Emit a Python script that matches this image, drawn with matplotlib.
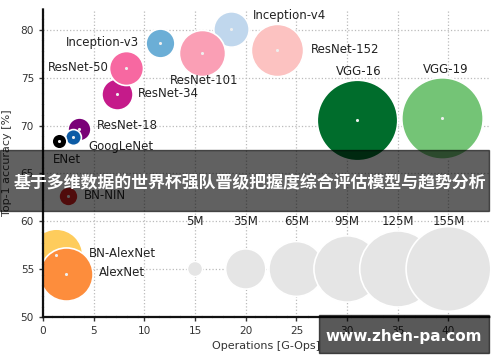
import matplotlib
matplotlib.use('Agg')
import matplotlib.pyplot as plt
from matplotlib.patches import Rectangle

# Redes: nome, operações [G-Ops], acurácia top-1 [%], parâmetros [M]
names = ['Inception-v4', 'Inception-v3', 'ResNet-152', 'ResNet-101', 'ResNet-18',
         'ResNet-34', 'ResNet-50', 'GoogLeNet', 'ENet', 'BN-NIN', 'BN-AlexNet',
         'AlexNet', 'VGG-16', 'VGG-19']
ops = [18.5, 11.5, 23.1, 15.7, 3.6, 7.3, 8.2, 3.0, 1.55, 2.5, 1.3, 2.3, 31.0, 39.4]
acc = [80.1, 78.6, 77.9, 77.6, 69.6, 73.3, 76.0, 68.8, 68.4, 62.65, 56.5, 54.5, 70.6, 70.75]
params = [27, 18, 59, 46, 11.4, 21, 25, 5.4, 4.7, 7.8, 60, 61, 140, 143]
colors = ['#c0d7ed', '#6baed6', '#fcc2c1', '#fa9fb5', '#7a0177', '#c51b8a', '#f768a1',
          '#0d5ca6', '#000000', '#d42020', '#fecc5c', '#fd8d3c', '#006d2c', '#74c476']

# Legenda de tamanho
ref_params = [5, 35, 65, 95, 125, 155]
ref_labels = ['5M', '35M', '65M', '95M', '125M', '155M']
ref_x = [15, 20, 25, 30, 35, 40]
ref_y = 55

# posição dos rótulos (x, y, alinhamento)
label_pos = {
    'Inception-v4': (20.7, 81.55, 'left'),
    'Inception-v3': (9.5, 78.65, 'right'),
    'ResNet-152': (26.4, 77.95, 'left'),
    'ResNet-101': (12.5, 74.7, 'left'),
    'ResNet-18': (5.3, 70.0, 'left'),
    'ResNet-34': (9.35, 73.4, 'left'),
    'ResNet-50': (6.5, 76.1, 'right'),
    'GoogLeNet': (4.47, 67.8, 'left'),
    'ENet': (1.0, 66.5, 'left'),
    'BN-NIN': (4.05, 62.65, 'left'),
    'BN-AlexNet': (4.57, 56.65, 'left'),
    'AlexNet': (5.56, 54.6, 'left'),
    'VGG-16': (31.1, 75.7, 'center'),
    'VGG-19': (39.7, 75.85, 'center'),
}

SCALE = 24

fig = plt.figure(figsize=(5, 3.62), dpi=100)
ax = fig.add_axes([0.086, 0.125, 0.894, 0.85])

ax.set_xlim(0, 44.1)
ax.set_ylim(50, 82.2)
ax.set_xticks(range(0, 41, 5))
ax.set_yticks(range(50, 81, 5))
ax.grid(True, linestyle=':', color='#bbbbbb', linewidth=0.9)
ax.set_axisbelow(True)

for s in ['top', 'right']:
    ax.spines[s].set_visible(False)
for s in ['left', 'bottom']:
    ax.spines[s].set_color('#111111')
    ax.spines[s].set_linewidth(1.6)
    ax.spines[s].set_linestyle((0, (4, 0.8)))

ax.tick_params(labelsize=7.6, colors='#333333', length=3, width=1)

# legenda de tamanhos
ax.scatter(ref_x, [ref_y] * len(ref_x), s=[p * SCALE for p in ref_params],
           c='#e5e5e5', edgecolors='white', linewidths=1.2, zorder=2)
for x, lab in zip(ref_x, ref_labels):
    ax.text(x, 60.0, lab, ha='center', va='center', fontsize=8.5, color='#222222')

# redes
for n, x, y, p, c in zip(names, ops, acc, params, colors):
    ax.scatter([x], [y], s=p * SCALE, c=c, edgecolors='white', linewidths=1.2, zorder=2)
ax.scatter(ops, acc, s=5, c='#eeeeee', linewidths=0, zorder=3)

for n in names:
    x, y, ha = label_pos[n]
    ax.text(x, y, n, ha=ha, va='center', fontsize=8.5, color='#222222')

ax.set_xlabel('Operations [G-Ops]', fontsize=8, color='#333333', labelpad=4)
ax.set_ylabel('Top-1 accuracy [%]', fontsize=8, color='#333333', labelpad=6)

# faixa com título
fig.patches.append(Rectangle((0, 1 - 211 / 362), 489 / 500, 61 / 362,
                             transform=fig.transFigure, color='black', alpha=0.62,
                             zorder=10))
fig.text(250 / 500, 1 - 183 / 362, '基于多维数据的世界杯强队晋级把握度综合评估模型与趋势分析',
         ha='center', va='center', fontsize=12.2, fontweight='bold', color='white',
         family=['Noto Sans CJK SC', 'DejaVu Sans'], zorder=11)

# marca d'água
fig.patches.append(Rectangle((319 / 500, 1 - 353 / 362), 170 / 500, 38 / 362,
                             transform=fig.transFigure, color='black', alpha=0.65,
                             zorder=10))
fig.text(404 / 500, 1 - 336.5 / 362, 'www.zhen-pa.com', ha='center', va='center',
         fontsize=11, fontweight='bold', color='white', zorder=11)

fig.savefig('out.png', dpi=100)
plt.close()
